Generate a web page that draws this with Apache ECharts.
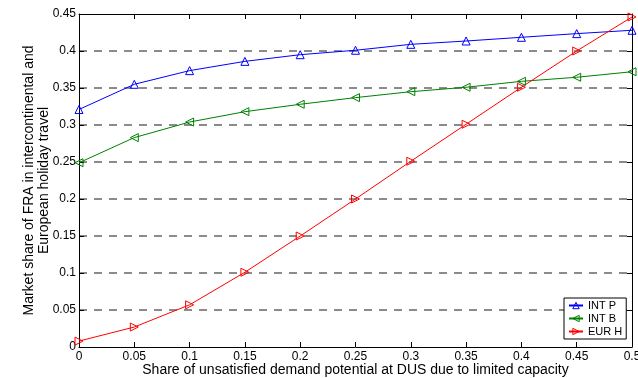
<!DOCTYPE html>
<html>
<head>
<meta charset="utf-8">
<script src="https://cdn.jsdelivr.net/npm/echarts@6/dist/echarts.min.js"></script>
<style>
  html, body { margin: 0; padding: 0; background: #fff; }
  #chart { width: 638px; height: 378px; }
</style>
</head>
<body>
<div id="chart"></div>
<script>
// Share of unsatisfied demand at DUS (x) and FRA market share per segment
const shares = [0, 0.05, 0.1, 0.15, 0.2, 0.25, 0.3, 0.35, 0.4, 0.45, 0.5];
const intP = [0.321, 0.355, 0.3735, 0.386, 0.395, 0.401, 0.409, 0.4135, 0.4185, 0.4235, 0.428];
const intB = [0.249, 0.283, 0.304, 0.318, 0.328, 0.337, 0.345, 0.351, 0.359, 0.3645, 0.372];
const eurH = [0.008, 0.027, 0.057, 0.101, 0.150, 0.200, 0.251, 0.301, 0.351, 0.400, 0.446];
const seriesNames = ['INT P', 'INT B', 'EUR H'];
const seriesColors = ['#0000ff', '#008000', '#ff0000'];
const xTitle = 'Share of unsatisfied demand potential at DUS due to limited capacity';
const yTitle = 'Market share of FRA in intercontinental and\nEuropean holiday travel';

const font = 'Liberation Sans, Arial, Helvetica, sans-serif';
const fmt = v => String(+v.toFixed(2));

function pairs(ys) { return shares.map((x, i) => [x, ys[i]]); }

function lineSeries(name, ys, color, rotate) {
  return {
    name: name,
    type: 'line',
    data: pairs(ys),
    symbol: 'triangle',
    symbolSize: 8,
    symbolRotate: rotate,
    showAllSymbol: true,
    lineStyle: { color: color, width: 1 },
    itemStyle: { color: 'rgba(255,255,255,0)', borderColor: color, borderWidth: 1 },
    emphasis: { disabled: true },
    animation: false,
    z: 3
  };
}

const frameTick = { show: true, inside: true, length: 5, lineStyle: { color: '#000', width: 1 } };
const frameLine = { show: true, onZero: false, lineStyle: { color: '#000', width: 1 } };

const chart = echarts.init(document.getElementById('chart'), null, { renderer: 'canvas' });
chart.setOption({
  backgroundColor: '#fff',
  animation: false,
  grid: { left: 79, top: 14, right: 6, bottom: 31, show: false, containLabel: false, outerBoundsMode: 'none' },
  legend: {
    orient: 'vertical',
    left: 564, top: 298,
    data: seriesNames.map((n, i) => ({
      name: n,
      itemStyle: { color: 'rgba(255,255,255,0)', borderColor: seriesColors[i], borderWidth: 1 }
    })),
    backgroundColor: '#fff',
    borderColor: '#000',
    borderWidth: 1,
    padding: [2, 4, 2, 4],
    itemGap: 2,
    itemWidth: 14,
    itemHeight: 8,
    textStyle: { fontFamily: font, fontSize: 11, color: '#000' }
  },
  xAxis: [{
    type: 'value', min: 0, max: 0.5, interval: 0.05,
    name: xTitle, nameLocation: 'middle', nameGap: 16, nameMoveOverlap: false,
    nameTextStyle: { fontFamily: font, fontSize: 14, color: '#000' },
    axisLine: frameLine,
    axisTick: frameTick,
    axisLabel: { fontFamily: font, fontSize: 12, color: '#000', margin: 4, formatter: fmt },
    splitLine: { show: false }
  }, {
    type: 'value', min: 0, max: 0.5, interval: 0.05, position: 'top',
    axisLine: frameLine,
    axisTick: frameTick,
    axisLabel: { show: false },
    splitLine: { show: false }
  }],
  yAxis: [{
    type: 'value', min: 0, max: 0.45, interval: 0.05,
    name: yTitle, nameLocation: 'middle', nameGap: 27, nameRotate: 90, nameMoveOverlap: false,
    nameTextStyle: { fontFamily: font, fontSize: 14, color: '#000', lineHeight: 15 },
    axisLine: frameLine,
    axisTick: frameTick,
    axisLabel: { fontFamily: font, fontSize: 12, color: '#000', margin: 3, formatter: fmt },
    splitLine: {
      show: true, showMinLine: false, showMaxLine: false,
      lineStyle: { color: '#666', width: 1.5, type: [8, 7] }
    }
  }, {
    type: 'value', min: 0, max: 0.45, interval: 0.05, position: 'right',
    axisLine: frameLine,
    axisTick: frameTick,
    axisLabel: { show: false },
    splitLine: { show: false }
  }],
  series: [
    lineSeries(seriesNames[0], intP, seriesColors[0], 0),
    lineSeries(seriesNames[1], intB, seriesColors[1], 90),
    lineSeries(seriesNames[2], eurH, seriesColors[2], -90)
  ]
});
</script>
</body>
</html>
